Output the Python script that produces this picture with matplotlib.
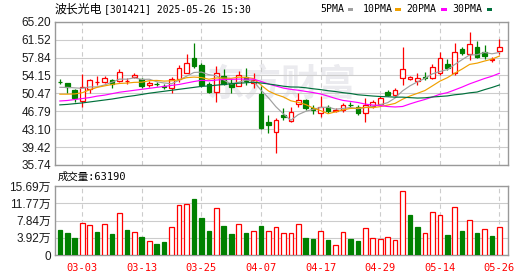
import matplotlib
matplotlib.use('Agg')
import matplotlib.pyplot as plt
import numpy as np
from matplotlib.patches import Rectangle

plt.rcParams['font.family'] = ['DejaVu Sans', 'Noto Sans CJK SC']

stock_name = '波长光电'
stock_code = '301421'
stamp = '2025-05-26 15:30'

dates = ['02-26', '02-27', '02-28',
         '03-03', '03-04', '03-05', '03-06', '03-07', '03-10', '03-11', '03-12', '03-13',
         '03-14', '03-17', '03-18', '03-19', '03-20', '03-21', '03-24', '03-25', '03-26',
         '03-27', '03-28', '03-31', '04-01', '04-02', '04-03', '04-07', '04-08', '04-09',
         '04-10', '04-11', '04-14', '04-15', '04-16', '04-17', '04-18', '04-21', '04-22',
         '04-23', '04-24', '04-25', '04-28', '04-29', '04-30', '05-06', '05-07', '05-08',
         '05-09', '05-12', '05-13', '05-14', '05-15', '05-16', '05-19', '05-20', '05-21',
         '05-22', '05-23', '05-26']

opens = [52.9, 52.5, 51.2, 48.8, 51.3, 52.8, 52.9, 53.2, 53.1, 53.0,
         53.9, 53.4, 52.2, 52.4, 51.9, 51.5, 53.4, 54.7, 57.8, 56.3,
         52.4, 50.7, 54.0, 52.5, 52.0, 53.8, 52.6, 50.3, 44.6, 42.6,
         46.0, 44.8, 48.2, 49.1, 47.4, 46.5, 47.7, 46.9, 47.0, 48.1,
         47.7, 46.4, 47.8, 48.2, 50.7, 50.1, 53.6, 53.4, 53.1, 53.8,
         53.7, 54.6, 56.6, 54.6, 59.6, 58.5, 60.0, 58.9, 57.3, 59.2]
highs = [53.4, 52.6, 51.3, 54.4, 53.4, 54.0, 54.1, 53.4, 55.4, 53.6,
         54.6, 53.6, 53.0, 52.8, 52.3, 53.9, 56.3, 58.6, 60.9, 56.8,
         52.8, 56.1, 55.4, 53.4, 55.0, 55.6, 54.6, 52.0, 46.0, 45.3,
         47.4, 47.7, 50.6, 49.3, 48.0, 49.9, 48.0, 47.4, 48.5, 48.6,
         48.0, 49.6, 49.2, 49.9, 51.1, 51.5, 60.0, 54.0, 54.6, 54.9,
         56.6, 58.9, 57.5, 60.75, 60.0, 63.0, 61.2, 60.5, 58.0, 61.6]
lows = [52.4, 50.5, 48.6, 47.7, 50.5, 52.2, 52.5, 51.5, 52.9, 52.4,
        53.6, 51.5, 51.7, 51.9, 51.3, 50.6, 52.9, 54.6, 55.6, 51.7,
        50.5, 48.75, 52.2, 50.6, 51.9, 52.2, 51.5, 43.1, 42.4, 38.3,
        45.0, 44.6, 47.6, 47.0, 46.2, 45.7, 46.4, 46.6, 46.6, 47.4,
        46.1, 44.6, 47.5, 48.0, 50.0, 49.9, 52.2, 53.2, 52.2, 53.2,
        53.4, 54.2, 55.3, 54.2, 58.3, 57.3, 57.8, 57.6, 56.9, 58.5]
closes = [52.8, 51.7, 49.5, 51.7, 53.2, 52.9, 53.7, 52.3, 54.9, 53.1,
          54.3, 52.0, 52.6, 52.3, 51.8, 53.5, 55.6, 56.8, 56.1, 52.2,
          50.8, 54.6, 52.4, 51.8, 54.2, 53.0, 53.3, 43.3, 44.0, 45.0,
          45.7, 46.7, 49.1, 47.4, 47.0, 47.7, 46.9, 47.1, 48.1, 48.0,
          46.4, 48.1, 48.6, 49.5, 50.2, 51.2, 55.4, 53.8, 53.6, 53.7,
          55.9, 57.8, 55.7, 58.9, 58.7, 60.7, 58.0, 58.1, 57.5, 60.1]

volumes = [56800, 50800, 38600, 72000, 67400, 52300, 69700, 47700, 94700, 56800,
           51500, 40200, 31100, 25000, 29500, 62900, 113600, 116000, 127300, 83300,
           53800, 106000, 65900, 47700, 69700, 50000, 53800, 65900, 53800, 62900,
           49200, 49200, 69700, 38600, 36400, 53800, 34100, 22000, 51500, 36400,
           31800, 60600, 37900, 36400, 40200, 33300, 144700, 90900, 63600, 50000,
           97000, 90200, 45500, 108300, 54500, 78800, 50800, 58300, 43200, 63190]

ma5 = [51.7, 51.7, 51.6, 51.5, 51.78, 51.8, 52.2, 52.76, 53.4, 53.38,
       53.66, 53.32, 53.38, 52.86, 52.6, 52.44, 53.16, 54.0, 54.76, 54.84,
       54.3, 54.1, 53.22, 52.36, 52.76, 53.2, 52.94, 51.12, 49.56, 47.72,
       46.26, 44.94, 46.1, 46.78, 47.18, 47.58, 47.62, 47.22, 47.36, 47.56,
       47.3, 47.54, 47.84, 48.12, 48.56, 49.52, 50.98, 52.02, 52.84, 53.54,
       54.48, 54.96, 55.34, 56.4, 57.4, 58.36, 58.4, 58.88, 58.6, 58.88]
ma10 = [50.3, 50.3, 50.35, 50.6, 51.2, 51.7, 52.0, 52.3, 52.5, 52.58,
        52.73, 52.76, 53.07, 53.13, 52.99, 53.05, 53.24, 53.69, 53.81, 53.72,
        53.37, 53.63, 53.61, 53.56, 53.80, 53.75, 53.52, 52.17, 50.96, 50.24,
        49.73, 48.94, 48.61, 48.17, 47.45, 46.92, 46.28, 46.66, 47.07, 47.37,
        47.44, 47.58, 47.53, 47.74, 48.06, 48.41, 49.26, 49.93, 50.48, 51.05,
        52.00, 52.97, 53.68, 54.62, 55.47, 56.42, 56.68, 57.11, 57.50, 58.14]
ma20 = [48.9, 49.0, 49.2, 49.4, 49.6, 49.9, 50.1, 50.4, 50.7, 50.9,
        51.1, 51.3, 51.5, 51.7, 51.9, 52.1, 52.3, 52.6, 52.9, 53.15,
        53.05, 53.20, 53.34, 53.35, 53.40, 53.40, 53.38, 52.93, 52.39, 51.98,
        51.55, 51.29, 51.11, 50.87, 50.63, 50.34, 49.90, 49.42, 49.02, 48.81,
        48.59, 48.26, 48.07, 47.96, 47.76, 47.67, 47.77, 48.30, 48.78, 49.21,
        49.72, 50.28, 50.61, 51.18, 51.77, 52.42, 52.97, 53.52, 53.99, 54.60]
ma30 = [48.1, 48.2, 48.35, 48.5, 48.7, 48.9, 49.1, 49.3, 49.55, 49.8,
        50.0, 50.25, 50.5, 50.7, 50.9, 51.1, 51.3, 51.5, 51.7, 51.9,
        52.0, 52.15, 52.3, 52.45, 52.55, 52.65, 52.75, 52.6, 52.4, 52.18,
        51.94, 51.78, 51.76, 51.62, 51.41, 51.24, 51.01, 50.84, 50.61, 50.44,
        50.18, 50.05, 49.92, 49.82, 49.77, 49.69, 49.69, 49.59, 49.50, 49.55,
        49.72, 49.83, 49.94, 50.18, 50.33, 50.58, 50.74, 51.23, 51.68, 52.19]

price_ticks = [35.74, 39.42, 43.10, 46.79, 50.47, 54.15, 57.84, 61.52, 65.20]
price_labels = ['35.74', '39.42', '43.10', '46.79', '50.47', '54.15', '57.84', '61.52', '65.20']
vol_ticks = [0, 39200, 78400, 117700, 156900]
vol_labels = ['0', '3.92万', '7.84万', '11.77万', '15.69万']
date_tick_labels = ['03-03', '03-13', '03-25', '04-07', '04-17', '04-29', '05-14', '05-26']

ma_names = ['5PMA', '10PMA', '20PMA', '30PMA']
ma_colors = ['#a0a0a0', '#f0a000', '#ff00ff', '#00703c']

RED = '#ff0000'
GREEN = '#008000'
W, H = 530, 276

o = np.array(opens); h = np.array(highs); l = np.array(lows); c = np.array(closes)
v = np.array(volumes)
x = np.arange(len(dates))
up = c >= o
prev = np.concatenate([[o[0]], c[:-1]])
vup = c >= prev

fig = plt.figure(figsize=(W / 100, H / 100), dpi=100)
ax = fig.add_axes([55 / W, 1 - 165 / H, 453 / W, (165 - 21.7) / H])
axv = fig.add_axes([55 / W, 1 - 255 / H, 453 / W, 69 / H])

# watermark
ax.text(0.50, 0.56, '东方财富', transform=ax.transAxes, fontsize=27, color='#ebebef',
        fontweight='bold', ha='center', va='center', family=['Noto Sans CJK SC'], zorder=0)

# candles
ax.vlines(x, l, h, colors=np.where(up, RED, GREEN), lw=0.9, zorder=3)
bb = np.minimum(o, c)
bh = np.maximum(np.abs(c - o), 0.06)
ax.bar(x[up], bh[up], bottom=bb[up], width=0.62, facecolor='white', edgecolor=RED, lw=0.9, zorder=4)
ax.bar(x[~up], bh[~up], bottom=bb[~up], width=0.62, facecolor=GREEN, edgecolor=GREEN, lw=0.9, zorder=4)

for series, col in zip([ma5, ma10, ma20, ma30], ma_colors):
    ax.plot(x, series, color=col, lw=0.85, zorder=5)

# volume
axv.bar(x[vup], v[vup], width=0.62, facecolor='white', edgecolor=RED, lw=0.9, zorder=3)
axv.bar(x[~vup], v[~vup], width=0.62, facecolor=GREEN, edgecolor=GREEN, lw=0.9, zorder=3)

date_pos = [dates.index(d) for d in date_tick_labels]
for a in (ax, axv):
    a.set_xlim(-0.65, 60.15)
    for s in a.spines.values():
        s.set_color('#999999')
        s.set_linewidth(1.0)
    a.set_xticks(date_pos)
    a.tick_params(length=0, labelsize=8.5, colors='#1a1a1a', pad=3)
    a.grid(axis='y', color='#cccccc', lw=0.8, zorder=0)
    a.grid(axis='x', color='#cccccc', lw=0.8, linestyle=(0, (4, 3)), zorder=0)
    a.set_axisbelow(True)

ax.set_ylim(price_ticks[0], price_ticks[-1])
ax.set_yticks(price_ticks)
ax.set_yticklabels(price_labels)
ax.set_xticklabels([])

axv.set_ylim(0, vol_ticks[-1])
axv.set_yticks(vol_ticks)
axv.set_yticklabels(vol_labels)
axv.set_xticklabels(date_tick_labels)
axv.tick_params(axis='x', colors=RED, pad=6, labelsize=7.5)
for t in axv.get_xticklabels():
    t.set_family(['DejaVu Sans Mono'])
for t in ax.get_yticklabels() + axv.get_yticklabels():
    t.set_family(['Liberation Sans', 'Noto Sans CJK SC'])

mono = ['DejaVu Sans Mono', 'Noto Sans CJK SC']
fig.text(55 / W, 1 - 9.5 / H, stock_name, fontsize=8.6,
         family=['Noto Sans CJK SC'], va='center', ha='left', color='#000000')
fig.text(104 / W, 1 - 9.5 / H, f'[{stock_code}] {stamp}', fontsize=7.0,
         family=['DejaVu Sans Mono'], va='center', ha='left', color='#000000')
fig.text(58 / W, 1 - 177 / H, f'成交量:{volumes[-1]}', fontsize=7.5,
         family=mono, va='center', ha='left', color='#000000')

legend_x = [320.7, 362.3, 406.7, 452.3]
square_x = [347.5, 395.0, 441.0, 486.5]
for name, col, tx, sx in zip(ma_names, ma_colors, legend_x, square_x):
    fig.text(tx / W, 1 - 9.5 / H, name, fontsize=7.1, family=['DejaVu Sans Mono'],
             va='center', ha='left', color='#000000')
    fig.patches.append(Rectangle((sx / W, 1 - 11 / H), 5.5 / W, 3.5 / H,
                                 transform=fig.transFigure, facecolor=col, edgecolor='none'))

fig.savefig('out.png', dpi=100)
